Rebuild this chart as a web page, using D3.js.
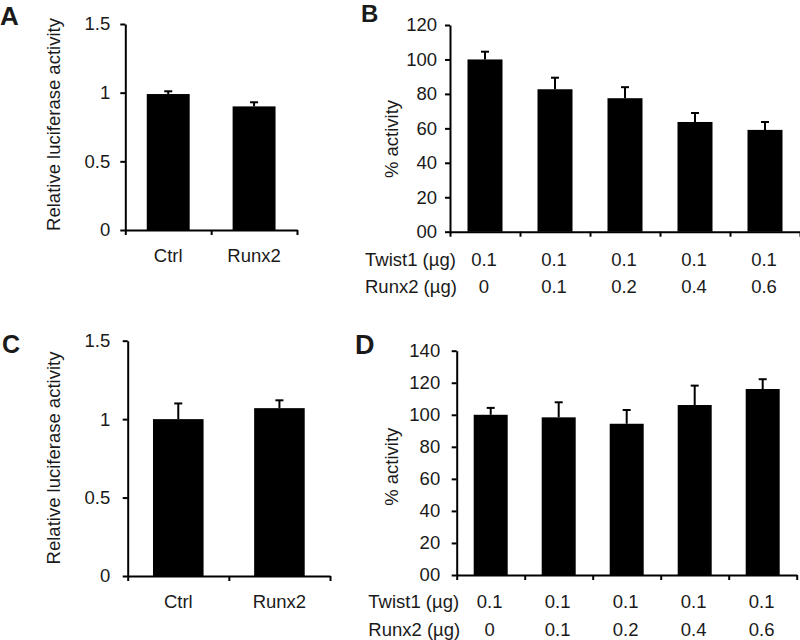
<!DOCTYPE html>
<html><head><meta charset="utf-8">
<script src="https://cdn.jsdelivr.net/npm/d3@7"></script>
<style>
html,body{margin:0;padding:0;background:#fff;}
svg text{font-family:"Liberation Sans",Arial,sans-serif;fill:#1a1a1a;}
</style></head>
<body>
<svg id="chart" width="800" height="640"></svg>
<script>
// ---- data ----
const catsAC = ["Ctrl", "Runx2"];
const valsA = [0.99, 0.90];
const errA = [0.02, 0.03];
const valsC = [1.00, 1.07];
const errC = [0.10, 0.05];
const ticksAC = [0, 0.5, 1, 1.5];

const twist1 = ["0.1", "0.1", "0.1", "0.1", "0.1"];
const runx2 = ["0", "0.1", "0.2", "0.4", "0.6"];
const valsB = [100, 82.7, 77.5, 63.7, 59.1];
const errB = [4.5, 6.7, 6.4, 5.2, 4.6];
const ticksB = [0, 20, 40, 60, 80, 100, 120];
const valsD = [100, 98.4, 94.4, 106.1, 116.1];
const errD = [4.3, 9.4, 8.6, 12.1, 6.1];
const ticksD = [0, 20, 40, 60, 80, 100, 120, 140];

const ylabelAC = "Relative luciferase activity";
const ylabelBD = "% activity";
const rowLabels = ["Twist1 (µg)", "Runx2 (µg)"];

const svg = d3.select("#chart");
const FS = 18.5;

function tickFmt(v) { return v === 0 && this && false ? "0" : String(v); }

function panel(o) {
  const g = svg.append("g");
  const n = o.vals.length;
  const y = d3.scaleLinear().domain([0, o.ymax]).range([o.y0, o.y1]);
  const xb = d3.scaleBand().domain(d3.range(n)).range([o.x0, o.x1])
    .paddingInner(0.5).paddingOuter(0.25);
  const xl = d3.scaleLinear().domain([0, n]).range([o.x0, o.x1]);

  // bars
  g.selectAll("rect.bar").data(o.vals).join("rect")
    .attr("x", (d, i) => xb(i)).attr("width", xb.bandwidth())
    .attr("y", d => y(d)).attr("height", d => y(0) - y(d))
    .attr("fill", "#000");
  // error bars (upper)
  const eb = g.selectAll("g.err").data(o.vals).join("g");
  eb.append("line")
    .attr("x1", (d, i) => xb(i) + xb.bandwidth() / 2)
    .attr("x2", (d, i) => xb(i) + xb.bandwidth() / 2)
    .attr("y1", d => y(d)).attr("y2", (d, i) => y(d + o.errs[i]))
    .attr("stroke", "#000").attr("stroke-width", 2);
  eb.append("line")
    .attr("x1", (d, i) => xb(i) + xb.bandwidth() / 2 - 4)
    .attr("x2", (d, i) => xb(i) + xb.bandwidth() / 2 + 4)
    .attr("y1", (d, i) => y(d + o.errs[i])).attr("y2", (d, i) => y(d + o.errs[i]))
    .attr("stroke", "#000").attr("stroke-width", 2);

  // y axis
  const ya = g.append("g").attr("transform", `translate(${o.x0},0)`)
    .call(d3.axisLeft(y).tickValues(o.ticks).tickSize(5).tickSizeOuter(0)
      .tickPadding(o.tickPad).tickFormat(o.fmt));
  ya.select(".domain").attr("stroke", "#000").attr("stroke-width", 2);
  ya.selectAll(".tick line").attr("stroke", "#000").attr("stroke-width", 2);
  ya.selectAll(".tick text").attr("font-size", FS).attr("fill", "#1a1a1a")
    .attr("font-family", '"Liberation Sans",Arial,sans-serif');

  // x axis (ticks at band boundaries)
  const xa = g.append("g").attr("transform", `translate(0,${o.y0})`)
    .call(d3.axisBottom(xl).tickValues(d3.range(n + 1)).tickFormat("").tickSize(5).tickSizeOuter(0));
  xa.select(".domain").attr("stroke", "#000").attr("stroke-width", 2);
  xa.selectAll(".tick line").attr("stroke", "#000").attr("stroke-width", 2);

  // y label
  g.append("text")
    .attr("transform", `translate(${o.ylx},${o.yly}) rotate(-90)`)
    .attr("text-anchor", "middle").attr("font-size", FS).text(o.ylabel);

  // panel letter
  g.append("text").attr("x", o.lx).attr("y", o.ly)
    .attr("font-size", o.lfs).attr("font-weight", "bold").attr("fill", "#000").text(o.letter);

  // categories / table
  if (o.cats) {
    g.selectAll("text.cat").data(o.cats).join("text")
      .attr("x", (d, i) => xb(i) + xb.bandwidth() / 2).attr("y", o.y0 + 31.5)
      .attr("text-anchor", "middle").attr("font-size", FS).text(d => d);
  } else {
    o.rows.forEach((row, r) => {
      const by = o.rowY[r];
      g.append("text").attr("x", o.rowX).attr("y", by).attr("font-size", FS).text(rowLabels[r]);
      g.selectAll(null).data(row).join("text")
        .attr("x", (d, i) => xb(i) + xb.bandwidth() / 2 - 1).attr("y", by)
        .attr("text-anchor", "middle").attr("font-size", FS).text(d => d);
    });
  }
}

const fmtAC = d => String(d);
const fmtBD = d => d === 0 ? "00" : String(d);

panel({ vals: valsA, errs: errA, ymax: 1.5, ticks: ticksAC, fmt: fmtAC,
  x0: 125.3, x1: 297, y0: 230, y1: 24, tickPad: 10, cats: catsAC,
  ylabel: ylabelAC, ylx: 60, yly: 124.5, letter: "A", lx: 0, ly: 24.5, lfs: 26 });
panel({ vals: valsB, errs: errB, ymax: 120, ticks: ticksB, fmt: fmtBD,
  x0: 450, x1: 800, y0: 231.7, y1: 25, tickPad: 8, rows: [twist1, runx2],
  rowX: 365, rowY: [266, 293.3],
  ylabel: ylabelBD, ylx: 397.5, yly: 139, letter: "B", lx: 361, ly: 21.7, lfs: 24 });
panel({ vals: valsC, errs: errC, ymax: 1.5, ticks: ticksAC, fmt: fmtAC,
  x0: 127.7, x1: 330, y0: 576, y1: 340.7, tickPad: 12.5, cats: catsAC,
  ylabel: ylabelAC, ylx: 60, yly: 458, letter: "C", lx: 2, ly: 353.3, lfs: 25 });
panel({ vals: valsD, errs: errD, ymax: 140, ticks: ticksD, fmt: fmtBD,
  x0: 456.7, x1: 796.7, y0: 575, y1: 350.7, tickPad: 11.5, rows: [twist1, runx2],
  rowX: 368.3, rowY: [607.7, 635.7],
  ylabel: ylabelBD, ylx: 397.5, yly: 466.7, letter: "D", lx: 355, ly: 354, lfs: 27 });
</script>
</body></html>
